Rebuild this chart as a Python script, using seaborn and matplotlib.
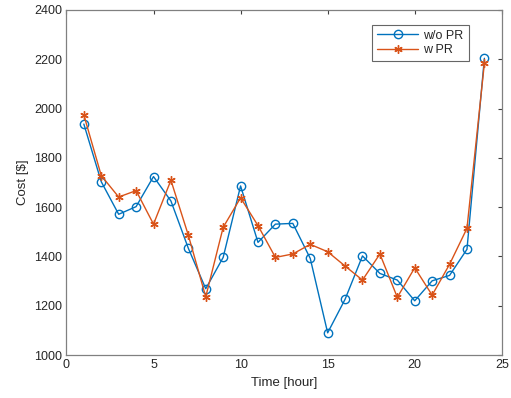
import matplotlib
matplotlib.use("Agg")
import matplotlib.pyplot as plt
import pandas as pd
import seaborn as sns

# hourly cost values
hours = list(range(1, 25))
cost_without_pr = [1937, 1703, 1571, 1602, 1724, 1625, 1433, 1269, 1396, 1686,
                   1457, 1531, 1534, 1392, 1090, 1226, 1402, 1331, 1304, 1220,
                   1301, 1323, 1429, 2204]
cost_with_pr = [1974, 1728, 1641, 1667, 1531, 1709, 1486, 1236, 1518, 1638,
                1525, 1396, 1410, 1449, 1419, 1361, 1304, 1410, 1234, 1354,
                1243, 1368, 1514, 2184]

df = pd.DataFrame({"hour": hours, "w/o PR": cost_without_pr, "w PR": cost_with_pr})

sns.set_style("white")
plt.rcParams["font.family"] = ["Liberation Sans", "DejaVu Sans"]

fig = plt.figure(figsize=(5.11, 3.98), dpi=100)
ax = fig.add_axes([0.130, 0.108, 0.852, 0.867])

sns.lineplot(data=df, x="hour", y="w/o PR", ax=ax, color="#0072BD", lw=1,
             marker="o", markersize=6, markerfacecolor="none",
             markeredgecolor="#0072BD", markeredgewidth=1, label="w/o PR")
sns.lineplot(data=df, x="hour", y="w PR", ax=ax, color="#D95319", lw=1,
             marker=(6, 2, 0), markersize=6, markeredgecolor="#D95319",
             markeredgewidth=1, label="w PR")

ax.set_xlim(0, 25)
ax.set_ylim(1000, 2400)
ax.set_xticks([0, 5, 10, 15, 20, 25])
ax.set_yticks(range(1000, 2401, 200))
ax.set_xlabel("Time [hour]", fontsize=9.5, color="#262626")
ax.set_ylabel("Cost [$]", fontsize=9.5, color="#262626")
ax.tick_params(direction="in", length=3, width=0.8, top=True, right=True,
               labelsize=9, colors="#262626", pad=3)
ax.tick_params(axis="both", color="#404040")
for side in ax.spines.values():
    side.set_visible(True)
    side.set_color("#808080")
    side.set_linewidth(0.9)

leg = ax.legend(loc="upper right", bbox_to_anchor=(0.924, 0.957), fontsize=9,
                frameon=True, fancybox=False, handlelength=3.3,
                borderpad=0.4, labelspacing=0.2, handletextpad=0.4,
                borderaxespad=0)
leg.get_frame().set_edgecolor("#404040")
leg.get_frame().set_linewidth(0.8)

fig.savefig("out.png", dpi=100)
